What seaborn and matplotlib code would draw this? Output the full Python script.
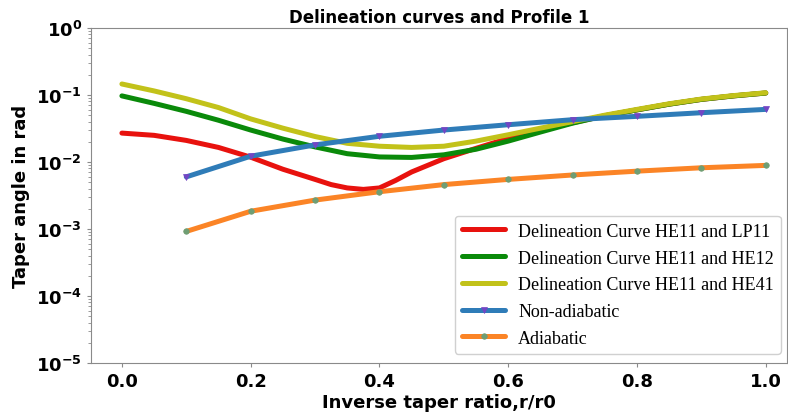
import numpy as np
import pandas as pd
import matplotlib
matplotlib.use('Agg')
import matplotlib.pyplot as plt
import seaborn as sns

# delineation curves
r_lp11 = [0.00, 0.05, 0.10, 0.15, 0.20, 0.25, 0.30, 0.325, 0.35, 0.375,
          0.40, 0.425, 0.45, 0.50, 0.55, 0.60, 0.65, 0.70, 0.75, 0.80,
          0.85, 0.90, 0.95, 1.00]
he11_lp11 = [0.027, 0.025, 0.021, 0.0165, 0.0118, 0.0078, 0.0055, 0.0046,
             0.0041, 0.0039, 0.0041, 0.0053, 0.0071, 0.0112, 0.0160, 0.0225,
             0.0300, 0.0385, 0.049, 0.060, 0.073, 0.086, 0.097, 0.107]

r_fine = [0.00, 0.05, 0.10, 0.15, 0.20, 0.25, 0.30, 0.35, 0.40, 0.45, 0.50,
          0.55, 0.60, 0.65, 0.70, 0.75, 0.80, 0.85, 0.90, 0.95, 1.00]
he11_he12 = [0.097, 0.075, 0.057, 0.042, 0.030, 0.022, 0.0168, 0.0133,
             0.0119, 0.0117, 0.0128, 0.0155, 0.0205, 0.028, 0.038, 0.049,
             0.060, 0.073, 0.086, 0.097, 0.107]
he11_he41 = [0.146, 0.115, 0.088, 0.065, 0.044, 0.032, 0.024, 0.019,
             0.0172, 0.0165, 0.0172, 0.0205, 0.0255, 0.032, 0.040, 0.050,
             0.061, 0.074, 0.087, 0.098, 0.108]

# taper profile, sampled at 0.1 steps
r_coarse = [0.1, 0.2, 0.3, 0.4, 0.5, 0.6, 0.7, 0.8, 0.9, 1.0]
non_adiabatic = [0.0060, 0.0122, 0.0180, 0.0242, 0.030, 0.036, 0.0428,
                 0.048, 0.0544, 0.061]
adiabatic = [0.00092, 0.00184, 0.0027, 0.0036, 0.0046, 0.0055, 0.0064,
             0.0073, 0.0082, 0.0089]

sns.set_style('ticks')
plt.rcParams['font.family'] = ['DejaVu Sans']
plt.rcParams['font.weight'] = 'bold'
plt.rcParams['axes.edgecolor'] = '#8a8a8a'
plt.rcParams['text.color'] = 'black'
plt.rcParams['axes.labelcolor'] = 'black'
plt.rcParams['xtick.color'] = 'black'
plt.rcParams['ytick.color'] = 'black'

fig = plt.figure(figsize=(7.88, 4.14), dpi=100)
ax = fig.add_axes([91 / 788, 1 - 364 / 414, (787 - 91) / 788, (364 - 29) / 414])

curves = [
    (r_lp11, he11_lp11, 'Delineation Curve HE11 and LP11', '#e8120e', None, None),
    (r_fine, he11_he12, 'Delineation Curve HE11 and HE12', '#0a8a0a', None, None),
    (r_fine, he11_he41, 'Delineation Curve HE11 and HE41', '#c2c21a', None, None),
    (r_coarse, non_adiabatic, 'Non-adiabatic', '#2f7cb8', 'v', '#7346c4'),
    (r_coarse, adiabatic, 'Adiabatic', '#fb8426', 'o', '#6f9e74'),
]

for xs, ys, label, color, marker, mcolor in curves:
    d = pd.DataFrame({'r': xs, 'theta': ys})
    kw = {}
    if marker is not None:
        kw = dict(marker=marker, markersize=4, markerfacecolor=mcolor,
                  markeredgecolor=mcolor, markeredgewidth=0.5)
    sns.lineplot(data=d, x='r', y='theta', ax=ax, color=color, linewidth=3.6,
                 label=label, **kw)

ax.set_yscale('log')
ax.set_ylim(1e-5, 1)
ax.set_xlim(-0.048, 1.033)
ax.set_xticks([0.0, 0.2, 0.4, 0.6, 0.8, 1.0])
ax.tick_params(axis='both', which='major', labelsize=13, length=3,
               color='#8a8a8a', labelcolor='black')
ax.tick_params(axis='y', which='minor', length=2, color='#8a8a8a')
for lbl in ax.get_xticklabels() + ax.get_yticklabels():
    lbl.set_fontweight('bold')

ax.set_xlabel('Inverse taper ratio,r/r0', fontsize=13, fontweight='bold',
              labelpad=2)
ax.set_ylabel('Taper angle in rad', fontsize=13, fontweight='bold')
ax.set_title('Delineation curves and Profile 1', fontsize=12,
             fontweight='bold', pad=4)

leg = ax.legend(loc='lower right', bbox_to_anchor=((781 - 91) / 696, 9 / 335),
                borderaxespad=0, prop={'family': 'Liberation Serif', 'size': 13,
                                       'weight': 'normal'},
                handlelength=2.4, handletextpad=0.7, labelspacing=0.54,
                frameon=True, fancybox=True, edgecolor='#d0d0d0', framealpha=1)
for t in leg.get_texts():
    t.set_color('black')

fig.savefig('out.png', dpi=100)
